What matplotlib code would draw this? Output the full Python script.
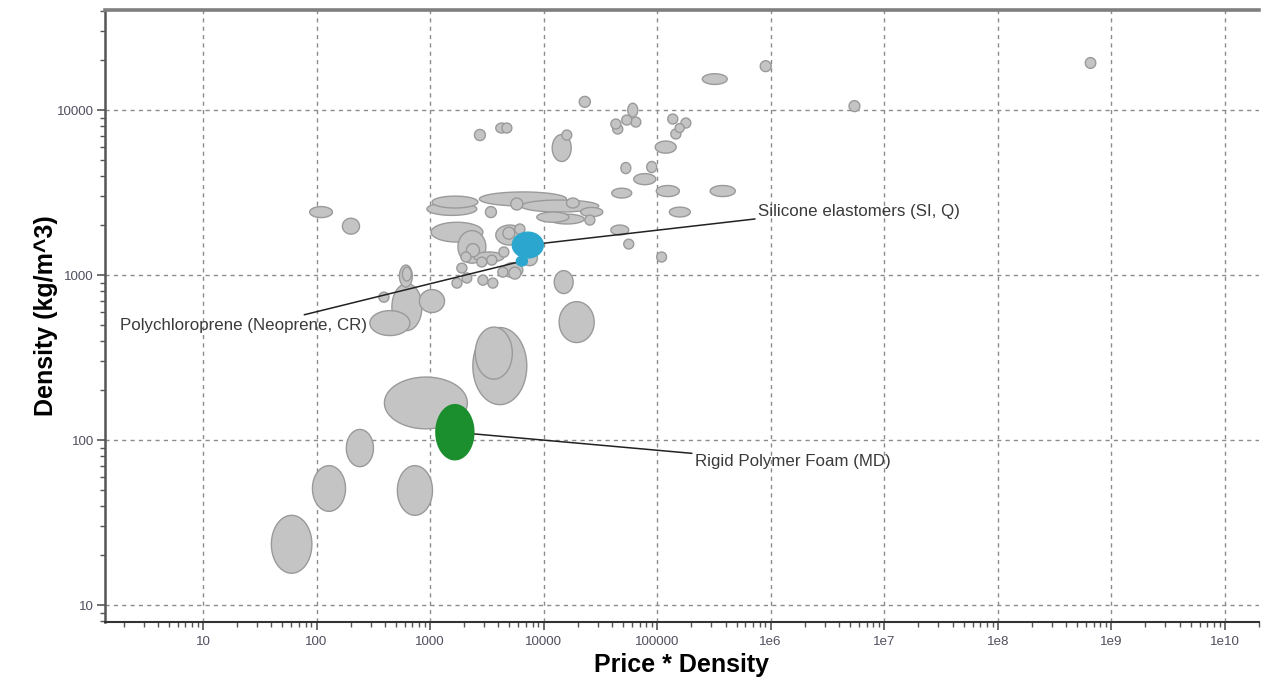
import numpy as np
import matplotlib
matplotlib.use("Agg")
import matplotlib.pyplot as plt
from matplotlib.ticker import FixedLocator, LogLocator, NullFormatter, FixedFormatter

plt.rcParams['font.family'] = ['Liberation Sans', 'DejaVu Sans']

# price*density range (low, high) and density range (low, high), kg/m^3
pd_lo = [40, 92, 183, 515, 396, 2380, 2500, 13700, 12400, 87, 169, 295, 461, 537, 570,
         805, 354, 1040, 937, 2720, 6300, 5140, 15900, 3070, 8710, 11200, 23100, 21200,
         39800, 39100, 98200, 293000, 128000, 62200, 80900, 47900, 96100, 132000, 124000,
         162000, 144000, 55100, 48800, 58600, 39100, 40600, 20600, 2460, 3790, 4290, 11900,
         14500, 250000, 809000, 5.9e8, 4.9e6, 50800, 99100, 1020, 1760, 2090, 1870, 2430,
         3790, 4380, 5570, 4040, 4380, 6490, 2580, 3160, 1560, 1910, 2640, 3230, 3950,
         4940, 1720]
pd_hi = [91, 180, 317, 1050, 2130, 7110, 5300, 27900, 18200, 138, 239, 664, 847, 698, 684,
         1340, 434, 2640, 2580, 15900, 30600, 6560, 20600, 3840, 16700, 22800, 28300, 33200,
         59700, 56200, 157000, 488000, 196000, 97300, 99100, 58600, 147000, 162000, 152000,
         198000, 173000, 67500, 59700, 71800, 47900, 49800, 25800, 3070, 4840, 5250, 17500,
         17700, 414000, 1010000, 7.3e8, 6.1e6, 62200, 121000, 2920, 3100, 2720, 2290, 4470,
         6700, 5570, 6840, 4940, 6560, 8810, 3160, 3870, 1910, 2330, 3230, 3950, 4840,
         6300, 2110]
dens_lo = [15.6, 37, 69, 35, 117, 164, 234, 390, 773, 2230, 1770, 430, 461, 845, 920,
           593, 685, 2550, 2300, 2620, 2410, 2480, 2550, 2230, 2090, 2040, 2010, 2260,
           2930, 1750, 2990, 2990, 2250, 3530, 4180, 4120, 5480, 6680, 8230, 7780, 7310,
           9070, 8110, 7890, 7680, 7160, 10400, 6530, 7260, 7260, 4880, 6580, 14300, 17100,
           17900, 9790, 1440, 1200, 1585, 1180, 1290, 1200, 1200, 1520, 1650, 1770, 1285,
           966, 1140, 1120, 1150, 834, 895, 869, 834, 972, 946, 1030]
dens_hi = [35, 70, 116, 70, 241, 481, 484, 690, 1064, 2600, 2210, 609, 888, 1150, 1117,
           817, 788, 3010, 2750, 3190, 2850, 2930, 2930, 2600, 2410, 2340, 2310, 2570,
           3360, 2010, 3490, 3490, 2580, 4120, 4880, 4810, 6490, 7680, 9460, 8950, 8280,
           11000, 9330, 9070, 8820, 8230, 12100, 7630, 8340, 8340, 7110, 7570, 16600, 19900,
           20800, 11400, 1650, 1380, 2090, 1860, 1550, 1380, 1380, 2010, 1950, 2040, 1480,
           1190, 1410, 1285, 1320, 959, 1030, 1000, 959, 1117, 1117, 1180]

# highlighted materials: name, price*density range, density range, colour
hl_names = ["Rigid Polymer Foam (MD)", "Polychloroprene (Neoprene, CR)", "Silicone elastomers (SI, Q)"]
hl_pd = [(1125, 2430), (5750, 7200), (5300, 9930)]
hl_dens = [(76, 164), (1135, 1300), (1270, 1820)]
hl_colors = ["#1b8e2d", "#2ba7cf", "#2ba7cf"]

# where each label sits
hl_text_pos = [(2.14e5, 74.6), (1.86, 498), (7.7e5, 2440)]
hl_relpos = [(0.0, 1.0), (0.7, 1.0), (0.0, 0.0)]

x_ticks = [10, 100, 1000, 1e4, 1e5, 1e6, 1e7, 1e8, 1e9, 1e10]
x_ticklabels = ["10", "100", "1000", "10000", "100000", "1e6", "1e7", "1e8", "1e9", "1e10"]
y_ticks = [10, 100, 1000, 10000]
y_ticklabels = ["10", "100", "1000", "10000"]


def ellipse(xr, yr, n=120):
    # ellipse spanning the ranges, drawn in log space
    lx, ly = np.log10(xr), np.log10(yr)
    cx, cy = lx.mean(), ly.mean()
    rx, ry = (lx[1] - lx[0]) / 2, (ly[1] - ly[0]) / 2
    t = np.linspace(0, 2 * np.pi, n)
    return 10 ** (cx + rx * np.cos(t)), 10 ** (cy + ry * np.sin(t))


fig = plt.figure(figsize=(12.71, 6.8), dpi=100)
ax = fig.add_axes([105 / 1271, 1 - 622 / 680, (1259 - 105) / 1271, (622 - 10) / 680])
ax.set_xscale("log")
ax.set_yscale("log")
ax.set_xlim(1.37, 2.0e10)
ax.set_ylim(7.9, 40400)

# big ones first so the small ones stay visible
areas = [np.log10(h / l) * np.log10(dh / dl) for l, h, dl, dh in zip(pd_lo, pd_hi, dens_lo, dens_hi)]
for i in np.argsort(areas)[::-1]:
    xs, ys = ellipse([pd_lo[i], pd_hi[i]], [dens_lo[i], dens_hi[i]])
    ax.fill(xs, ys, facecolor="#c4c4c4", edgecolor="#9a9a9a", lw=1.0, zorder=2)

for name, xr, yr, c, tp, rp in zip(hl_names, hl_pd, hl_dens, hl_colors, hl_text_pos, hl_relpos):
    xs, ys = ellipse(xr, yr)
    ax.fill(xs, ys, facecolor=c, edgecolor=c, lw=1.0, zorder=4)
    center = (np.sqrt(xr[0] * xr[1]), np.sqrt(yr[0] * yr[1]))
    ax.annotate(name, xy=center, xytext=tp, textcoords="data", ha="left", va="center",
                fontsize=12.2, color="#3a3a3a", zorder=3,
                arrowprops=dict(arrowstyle="-", color="#222222", lw=1.1,
                                shrinkA=0, shrinkB=0, relpos=rp))

ax.xaxis.set_major_locator(FixedLocator(x_ticks))
ax.xaxis.set_major_formatter(FixedFormatter(x_ticklabels))
ax.yaxis.set_major_locator(FixedLocator(y_ticks))
ax.yaxis.set_major_formatter(FixedFormatter(y_ticklabels))
for a in (ax.xaxis, ax.yaxis):
    a.set_minor_locator(LogLocator(base=10, subs=np.arange(2, 10), numticks=30))
    a.set_minor_formatter(NullFormatter())

ax.grid(True, which="major", color="#8c8c8c", lw=1.0, linestyle=(0, (3, 3)), zorder=0)
ax.set_axisbelow(True)

ax.tick_params(which="major", direction="out", length=6, width=1.2, color="#555555",
               labelsize=9.6, labelcolor="#505060", top=False, right=False)
ax.tick_params(which="minor", direction="out", length=3.5, width=1.0, color="#555555",
               top=False, right=False)
ax.tick_params(axis="x", pad=4)
ax.tick_params(axis="y", pad=2)

ax.spines["right"].set_visible(False)
ax.spines["top"].set_color("#7f7f7f")
ax.spines["top"].set_linewidth(2.6)
ax.spines["left"].set_color("#555555")
ax.spines["left"].set_linewidth(1.8)
ax.spines["bottom"].set_color("#333333")
ax.spines["bottom"].set_linewidth(1.5)

ax.set_xlabel("Price * Density", fontsize=18, fontweight="bold", labelpad=4)
ax.set_ylabel("Density (kg/m^3)", fontsize=18, fontweight="bold", labelpad=-1)

fig.savefig("out.png", dpi=100)
